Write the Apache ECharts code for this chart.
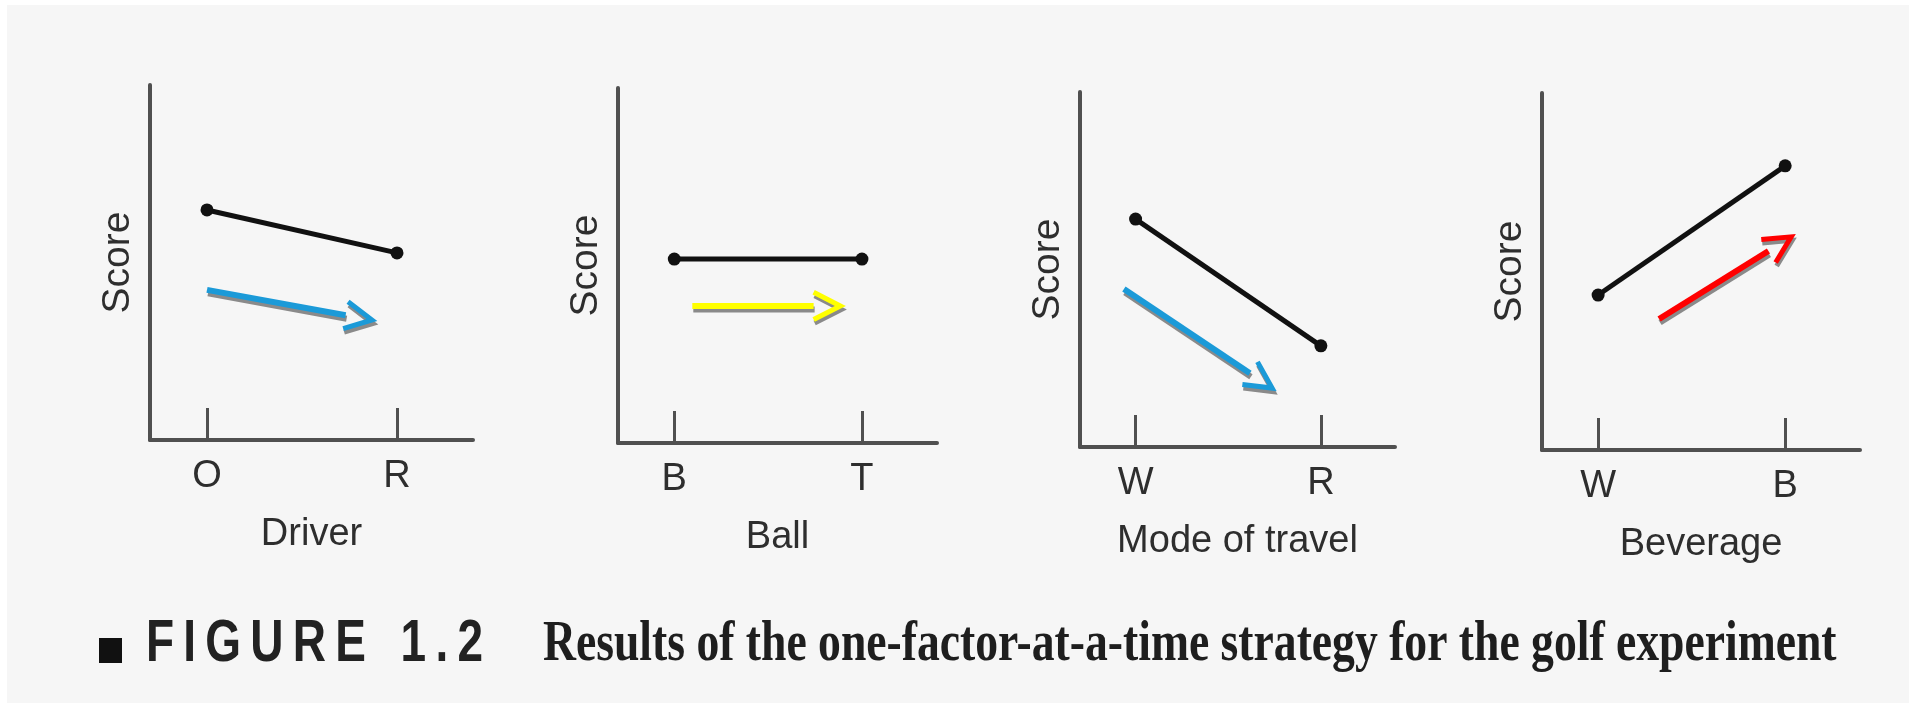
<!DOCTYPE html>
<html>
<head>
<meta charset="utf-8">
<script src="https://cdn.jsdelivr.net/npm/echarts@6/dist/echarts.min.js"></script>
<style>
html,body{margin:0;padding:0;background:#ffffff;}
#chart{width:1909px;height:703px;}
</style>
</head>
<body>
<div id="chart"></div>
<script>
// ---- data ----
const categories = [['O', 'R'], ['B', 'T'], ['W', 'R'], ['W', 'B']];
const factorNames = ['Driver', 'Ball', 'Mode of travel', 'Beverage'];
const scoreValues = [[6.48, 5.27], [5.18, 5.18], [6.42, 2.85], [4.34, 7.96]];
const arrowStart = [[0, 4.23], [0.096, 3.86], [-0.063, 4.45], [0.326, 3.67]];
const arrowEnd = [[0.868, 3.38], [0.885, 3.86], [0.737, 1.66], [1.032, 5.97]];
const arrowColors = ['#1b9ad8', '#ffff00', '#1b9ad8', '#ff0000'];
const yTitle = 'Score';
const captionLabel = 'FIGURE 1.2';
const captionText = 'Results of the one-factor-at-a-time strategy for the golf experiment';

// ---- layout ----
const grids = [
  {left: 150, top: 85, width: 323, height: 355},
  {left: 618, top: 88, width: 319, height: 355},
  {left: 1080, top: 92, width: 315, height: 355},
  {left: 1542, top: 93, width: 318, height: 357}
];
const axisColor = '#505050';
const textColor = '#2e2e2e';
const sansFont = '"Liberation Sans", Arial, sans-serif';

const xAxes = [], yAxes = [], series = [];
grids.forEach((g, i) => {
  const cats = categories[i];
  xAxes.push({
    type: 'value', gridIndex: i, min: -0.3, max: 1.4,
    name: factorNames[i], nameLocation: 'middle', nameGap: 76,
    nameTextStyle: {fontSize: 38, color: textColor, fontFamily: sansFont},
    axisLine: {show: true, onZero: false, lineStyle: {color: axisColor, width: 4}},
    axisTick: {show: true, inside: true, length: 32, customValues: [0, 1], lineStyle: {color: axisColor, width: 3}},
    axisLabel: {show: true, margin: 18, customValues: [0, 1], fontSize: 38, color: textColor, fontFamily: sansFont,
      formatter: v => cats[Math.round(v)]},
    splitLine: {show: false}
  });
  yAxes.push({
    type: 'value', gridIndex: i, min: 0, max: 10,
    name: yTitle, nameLocation: 'middle', nameGap: 12, nameRotate: 90,
    nameTextStyle: {fontSize: 39, color: textColor, fontFamily: sansFont},
    axisLine: {show: true, onZero: false, lineStyle: {color: axisColor, width: 4}},
    axisTick: {show: false}, axisLabel: {show: false}, splitLine: {show: false}
  });
  series.push({
    type: 'line', xAxisIndex: i, yAxisIndex: i,
    data: [[0, scoreValues[i][0]], [1, scoreValues[i][1]]],
    symbol: 'circle', symbolSize: 13,
    lineStyle: {color: '#111111', width: 5},
    itemStyle: {color: '#111111'},
    silent: true, animation: false, z: 3
  });
  series.push({
    type: 'custom', xAxisIndex: i, yAxisIndex: i,
    data: [[arrowStart[i][0], arrowStart[i][1], arrowEnd[i][0], arrowEnd[i][1]]],
    encode: {x: [0, 2], y: [1, 3]},
    animation: false, silent: true, z: 4,
    renderItem: (params, api) => {
      const p0 = api.coord([api.value(0), api.value(1)]);
      const p1 = api.coord([api.value(2), api.value(3)]);
      const dx = p1[0] - p0[0], dy = p1[1] - p0[1];
      const len = Math.sqrt(dx * dx + dy * dy);
      const ux = dx / len, uy = dy / len;
      const arm = 30, ang = 27 * Math.PI / 180;
      const back = arm * Math.cos(ang);
      const side = arm * Math.sin(ang);
      const mx = p1[0] - ux * back, my = p1[1] - uy * back;
      const a1 = [mx - uy * side, my + ux * side];
      const a2 = [mx + uy * side, my - ux * side];
      const shaftEnd = [mx, my];
      const make = (ox, oy, color) => ([
        {type: 'line', shape: {x1: p0[0] + ox, y1: p0[1] + oy, x2: shaftEnd[0] + ox, y2: shaftEnd[1] + oy},
          style: {stroke: color, lineWidth: 6, lineCap: 'butt'}},
        {type: 'polyline', shape: {points: [[a1[0] + ox, a1[1] + oy], [p1[0] + ox, p1[1] + oy], [a2[0] + ox, a2[1] + oy]]},
          style: {stroke: color, lineWidth: 5, fill: 'none', lineJoin: 'miter'}}
      ]);
      return {type: 'group', children: make(1, 3.5, '#8a8a8a').concat(make(0, 0, arrowColors[params.seriesIndex >> 1]))};
    }
  });
});

const captionDisplay = captionLabel.split(' ').map(w => w.split('').join('\u2009')).join('  \u2009');

const chart = echarts.init(document.getElementById('chart'), null, {renderer: 'canvas'});
chart.setOption({
  animation: false,
  backgroundColor: '#ffffff',
  grid: grids.map(g => Object.assign({containLabel: false}, g)),
  xAxis: xAxes,
  yAxis: yAxes,
  series: series,
  graphic: [
    {type: 'rect', z: -10, silent: true, shape: {x: 7, y: 5, width: 1902, height: 698}, style: {fill: '#f6f6f6'}},
    {type: 'rect', silent: true, shape: {x: 99, y: 638, width: 23, height: 25}, style: {fill: '#111111'}},
    {type: 'text', silent: true, x: 146, y: 645, scaleX: 1, scaleY: 1.275,
      style: {text: captionDisplay, fontSize: 46, fontWeight: 'bold', fontFamily: sansFont, fill: '#222222',
        align: 'left', verticalAlign: 'middle'}},
    {type: 'text', silent: true, x: 543, y: 646, scaleX: 0.815, scaleY: 1,
      style: {text: captionText, fontSize: 56, fontWeight: 'bold', fontFamily: '"Liberation Serif", "Times New Roman", serif', fill: '#1e1e1e',
        align: 'left', verticalAlign: 'middle'}}
  ]
});
</script>
</body>
</html>
